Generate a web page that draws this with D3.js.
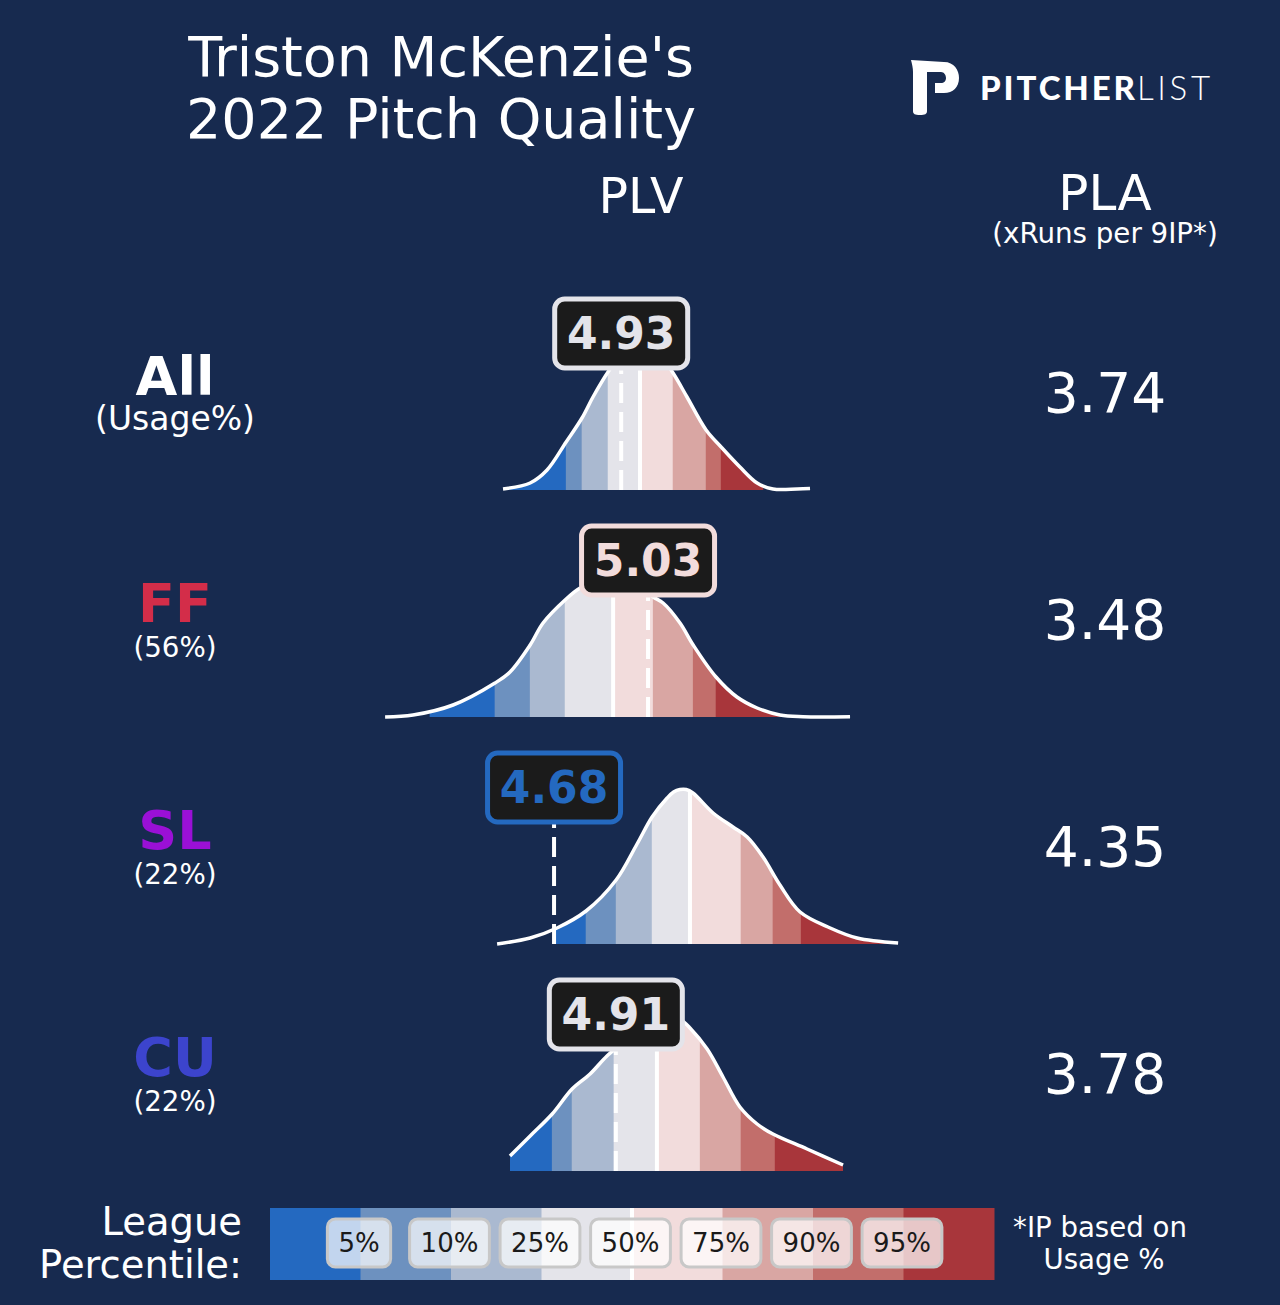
<!DOCTYPE html>
<html>
<head>
<meta charset="utf-8">
<script src="https://cdn.jsdelivr.net/npm/d3@7"></script>
<style>
html, body { margin: 0; padding: 0; background: #172a4f; }
svg { display: block; font-family: "DejaVu Sans", sans-serif; }
</style>
</head>
<body>
<div id="chart"></div>
<script>
// canvas
const width = 1280;
const height = 1305;
const bg = "#172a4f";

// rows
const pitchNames = ["All", "FF", "SL", "CU"];
const pitchColors = ["#ffffff", "#d32d49", "#9a10d6", "#3c44cd"];
const usageLabels = ["(Usage%)", "(56%)", "(22%)", "(22%)"];
const plvValues = [4.93, 5.03, 4.68, 4.91];
const plaValues = ["3.74", "3.48", "4.35", "3.78"];

// league percentile cut points (5,10,25,50,75,90,95) per pitch
const percentileLabels = ["5%", "10%", "25%", "50%", "75%", "90%", "95%"];
const pctAll = [4.725, 4.784, 4.881, 5.000, 5.123, 5.246, 5.302];
const pctFF = [4.460, 4.591, 4.721, 4.900, 5.049, 5.198, 5.283];
const pctSL = [4.799, 4.911, 5.045, 5.186, 5.376, 5.495, 5.600];
const pctCU = [4.673, 4.747, 4.903, 5.063, 5.224, 5.376, 5.503];

// shaded range of each curve
const fillAll = [4.498, 5.458];
const fillFF = [4.218, 5.540];
const fillSL = [4.684, 5.961];
const fillCU = [4.516, 5.756];

// league PLV density [plv, density]
const densityAll = [[4.490,0.01],[4.591,0.07],[4.654,0.20],[4.725,0.48],[4.784,0.72],[4.825,0.93],[4.881,1.18],[4.944,1.40],[5.000,1.48],[5.056,1.42],[5.123,1.17],[5.175,0.93],[5.246,0.60],[5.302,0.43],[5.372,0.23],[5.436,0.07],[5.495,0.01],[5.585,0.01],[5.633,0.015]];
const densityFF = [[4.051,0.00],[4.155,0.02],[4.304,0.12],[4.460,0.34],[4.516,0.45],[4.591,0.72],[4.639,0.94],[4.721,1.17],[4.777,1.29],[4.840,1.35],[4.907,1.37],[4.982,1.33],[5.049,1.20],[5.086,1.14],[5.149,0.94],[5.198,0.72],[5.283,0.40],[5.361,0.20],[5.436,0.09],[5.521,0.02],[5.607,0.003],[5.782,0.003]];
const densitySL = [[4.468,0.00],[4.591,0.06],[4.691,0.16],[4.799,0.33],[4.911,0.64],[4.989,1.00],[5.045,1.27],[5.101,1.46],[5.125,1.52],[5.149,1.545],[5.172,1.545],[5.197,1.51],[5.272,1.31],[5.346,1.17],[5.399,1.07],[5.458,0.87],[5.521,0.59],[5.596,0.32],[5.708,0.16],[5.808,0.06],[5.961,0.01]];
const densityCU = [[4.516,0.15],[4.591,0.35],[4.673,0.57],[4.747,0.82],[4.814,0.97],[4.877,1.15],[4.944,1.30],[5.019,1.48],[5.093,1.58],[5.149,1.52],[5.186,1.43],[5.250,1.22],[5.309,0.94],[5.372,0.64],[5.436,0.47],[5.495,0.37],[5.622,0.22],[5.756,0.06]];

const bandColors = ["#2469c0", "#6d91bf", "#aab9d0", "#e4e4ea", "#f2dcdc", "#d9a6a3", "#c26e6b", "#a8363b"];

const percentiles = [pctAll, pctFF, pctSL, pctCU];
const fillRanges = [fillAll, fillFF, fillSL, fillCU];
const densities = [densityAll, densityFF, densitySL, densityCU];

//define svg
const svg = d3.select("#chart")
	.append("svg")
	.attr("width", width)
	.attr("height", height);

svg.append("rect")
	.attr("width", width)
	.attr("height", height)
	.attr("fill", bg);

const defs = svg.append("defs");

// scales
const x = d3.scaleLinear().domain([4, 6]).range([371.4, 908.6]);
const rowBase = d3.scaleLinear().domain([0, 3]).range([490, 1171]);

// title
svg.append("text")
	.attr("x", 441)
	.attr("y", 76)
	.attr("text-anchor", "middle")
	.attr("font-size", 55.5)
	.attr("fill", "#fff")
	.text("Triston McKenzie's");
svg.append("text")
	.attr("x", 441)
	.attr("y", 138)
	.attr("text-anchor", "middle")
	.attr("font-size", 55.5)
	.attr("fill", "#fff")
	.text("2022 Pitch Quality");

// column headers
svg.append("text")
	.attr("x", 641)
	.attr("y", 213)
	.attr("text-anchor", "middle")
	.attr("font-size", 49)
	.attr("fill", "#fff")
	.text("PLV");
svg.append("text")
	.attr("x", 1105)
	.attr("y", 210)
	.attr("text-anchor", "middle")
	.attr("font-size", 50)
	.attr("fill", "#fff")
	.text("PLA");
svg.append("text")
	.attr("x", 1105)
	.attr("y", 243)
	.attr("text-anchor", "middle")
	.attr("font-size", 27.7)
	.attr("fill", "#fff")
	.text("(xRuns per 9IP*)");

// logo
const logo = svg.append("g");
logo.append("path")
	.attr("d", "M911,60 L944,62 C954,62 959,70 959,78 C959,87 953,93 944,93 L935,93 L935,83 L941,83 C944,83 946,81 946,78 C946,75 944,72 941,72 L927,72 L927,111 C927,114 925,115 920,115 C915,115 913,114 913,111 L913,72 C913,68 912,64 911,60 Z")
	.attr("fill", "#fff");
logo.append("text")
	.attr("x", 980)
	.attr("y", 100)
	.attr("font-family", "Lato, 'Open Sans', sans-serif")
	.attr("font-weight", 900)
	.attr("font-size", 33)
	.attr("textLength", 155)
	.attr("lengthAdjust", "spacing")
	.attr("fill", "#fff")
	.text("PITCHER");
logo.append("text")
	.attr("x", 1137)
	.attr("y", 100)
	.attr("font-family", "Lato, 'Open Sans', sans-serif")
	.attr("font-weight", 300)
	.attr("font-size", 33)
	.attr("textLength", 73)
	.attr("lengthAdjust", "spacing")
	.attr("fill", "#fff")
	.text("LIST");

// rows
densities.forEach((dens, i) => {
	const base = rowBase(i);
	const y = d3.scaleLinear().domain([0, 1.6]).range([base, base - 160]);
	const area = d3.area()
		.x((d) => x(d[0]))
		.y0(base)
		.y1((d) => y(d[1]))
		.curve(d3.curveCatmullRom.alpha(0.5));
	const line = d3.line()
		.x((d) => x(d[0]))
		.y((d) => y(d[1]))
		.curve(d3.curveCatmullRom.alpha(0.5));

	const pct = percentiles[i];
	const cuts = [fillRanges[i][0]].concat(pct, [fillRanges[i][1]]);
	const g = svg.append("g");

	// percentile bands
	bandColors.forEach((c, j) => {
		const id = "clip-" + i + "-" + j;
		defs.append("clipPath")
			.attr("id", id)
			.append("rect")
			.attr("x", x(cuts[j]) - 0.3)
			.attr("y", base - 220)
			.attr("width", x(cuts[j + 1]) - x(cuts[j]) + 0.6)
			.attr("height", 221);
		g.append("path")
			.datum(dens)
			.attr("d", area)
			.attr("fill", c)
			.attr("clip-path", "url(#" + id + ")");
	});

	// median line, clipped to the curve
	const areaId = "area-" + i;
	defs.append("clipPath")
		.attr("id", areaId)
		.append("path")
		.datum(dens)
		.attr("d", area);
	g.append("line")
		.attr("x1", x(pct[3]))
		.attr("x2", x(pct[3]))
		.attr("y1", base)
		.attr("y2", base - 220)
		.attr("stroke", "#fff")
		.attr("stroke-width", 4)
		.attr("clip-path", "url(#" + areaId + ")");

	// pitcher value
	const v = plvValues[i];
	const vc = bandColors[d3.bisectRight(pct, v)];
	g.append("line")
		.attr("x1", x(v))
		.attr("x2", x(v))
		.attr("y1", base)
		.attr("y2", base - 124)
		.attr("stroke", "#fff")
		.attr("stroke-width", 4)
		.attr("stroke-dasharray", "20,9");

	// outline
	g.append("path")
		.datum(dens)
		.attr("d", line)
		.attr("fill", "none")
		.attr("stroke", "#fff")
		.attr("stroke-width", 3.5);

	// value label
	g.append("rect")
		.attr("x", x(v) - 66.5)
		.attr("y", base - 191)
		.attr("width", 133)
		.attr("height", 69)
		.attr("rx", 10)
		.attr("fill", "#1b1b1b")
		.attr("stroke", vc)
		.attr("stroke-width", 5);
	g.append("text")
		.attr("x", x(v))
		.attr("y", base - 141)
		.attr("text-anchor", "middle")
		.attr("font-size", 44)
		.attr("font-weight", "bold")
		.attr("fill", vc)
		.text(v.toFixed(2));

	// left labels
	svg.append("text")
		.attr("x", 175)
		.attr("y", base - 95)
		.attr("text-anchor", "middle")
		.attr("font-size", 54)
		.attr("font-weight", "bold")
		.attr("fill", pitchColors[i])
		.text(pitchNames[i]);
	svg.append("text")
		.attr("x", 175)
		.attr("y", base - 60)
		.attr("text-anchor", "middle")
		.attr("font-size", i == 0 ? 33 : 27.7)
		.attr("fill", "#fff")
		.text(usageLabels[i]);

	// PLA
	svg.append("text")
		.attr("x", 1105)
		.attr("y", base - 78)
		.attr("text-anchor", "middle")
		.attr("font-size", 55)
		.attr("fill", "#fff")
		.text(plaValues[i]);
});

// legend
const lx = d3.scaleLinear().domain([0, bandColors.length]).range([270, 994]);
const legend = svg.append("g");
legend.selectAll("rect")
	.data(bandColors)
	.enter()
	.append("rect")
	.attr("x", (d, j) => lx(j))
	.attr("y", 1208)
	.attr("width", (d, j) => lx(j + 1) - lx(j) + 0.5)
	.attr("height", 72)
	.attr("fill", (d) => d);
legend.append("line")
	.attr("x1", lx(4))
	.attr("x2", lx(4))
	.attr("y1", 1208)
	.attr("y2", 1280)
	.attr("stroke", "#fff")
	.attr("stroke-width", 4);

percentileLabels.forEach((t, j) => {
	const cx = lx(j + 1) - 1.5;
	const box = legend.append("rect");
	const txt = legend.append("text")
		.attr("x", cx)
		.attr("y", 1252)
		.attr("text-anchor", "middle")
		.attr("font-size", 26)
		.attr("fill", "#1a1a1a")
		.text(t);
	const w = txt.node().getComputedTextLength() + 22;
	box.attr("x", cx - w / 2)
		.attr("y", 1219)
		.attr("width", w)
		.attr("height", 48)
		.attr("rx", 8)
		.attr("fill", "#ffffff")
		.attr("fill-opacity", 0.72)
		.attr("stroke", "#c8c8c8")
		.attr("stroke-width", 3);
});

svg.append("text")
	.attr("x", 242)
	.attr("y", 1235)
	.attr("text-anchor", "end")
	.attr("font-size", 38.5)
	.attr("fill", "#fff")
	.text("League");
svg.append("text")
	.attr("x", 242)
	.attr("y", 1278)
	.attr("text-anchor", "end")
	.attr("font-size", 38.5)
	.attr("fill", "#fff")
	.text("Percentile:");

svg.append("text")
	.attr("x", 1100)
	.attr("y", 1237)
	.attr("text-anchor", "middle")
	.attr("font-size", 27.6)
	.attr("fill", "#fff")
	.text("*IP based on");
svg.append("text")
	.attr("x", 1104)
	.attr("y", 1269)
	.attr("text-anchor", "middle")
	.attr("font-size", 27.6)
	.attr("fill", "#fff")
	.text("Usage %");
</script>
</body>
</html>
